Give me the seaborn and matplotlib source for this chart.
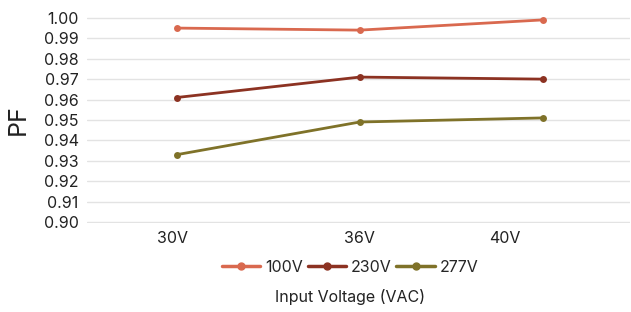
import pandas as pd
import seaborn as sns
from matplotlib import pyplot as plt

voltages = ["30V", "36V", "40V"]
pf_100v = [0.995, 0.994, 0.999]
pf_230v = [0.961, 0.971, 0.970]
pf_277v = [0.933, 0.949, 0.951]
series = ["100V", "230V", "277V"]
colors = ["#d9694f", "#8c3222", "#7f7229"]
y_ticks = [0.90, 0.91, 0.92, 0.93, 0.94, 0.95, 0.96, 0.97, 0.98, 0.99, 1.00]

sns.set_style("white")
plt.rcParams["font.family"] = ["Inter", "DejaVu Sans"]

rows = []
for name, vals in zip(series, [pf_100v, pf_230v, pf_277v]):
    for i, v in enumerate(vals):
        rows.append({"pos": i, "PF": v, "series": name})
df = pd.DataFrame(rows)

fig = plt.figure(figsize=(6.31, 3.12), dpi=100)
ax = fig.add_axes([0.138, 0.285, 0.86, 0.661])
sns.lineplot(data=df, x="pos", y="PF", hue="series", palette=colors,
             marker="o", markersize=5, markeredgewidth=0, linewidth=2,
             ax=ax, legend=False)

ax.set_xlim(-0.49, 2.475)
ax.set_ylim(0.8995, 1.0005)
ax.set_yticks(y_ticks)
ax.set_yticklabels(["%.2f" % t for t in y_ticks], fontsize=11.5)
ax.set_xticks([-0.022, 1.0, 1.79])
ax.set_xticklabels(voltages, fontsize=11.5)
ax.tick_params(axis="both", length=0, pad=6, colors="#222222")
ax.yaxis.grid(True, color="#e3e3e3", linewidth=1)
for s in ax.spines.values():
    s.set_visible(False)
ax.set_xlabel("")
ax.set_ylabel("PF", fontsize=18, labelpad=10, color="#222222")

handles = [plt.Line2D([], [], color=c, linewidth=2.5, marker="o",
                      markersize=5) for c in colors]
fig.legend(handles, series, loc="center", bbox_to_anchor=(0.555, 0.144),
           ncol=3, frameon=False, fontsize=11.5, handlelength=2.4,
           handletextpad=0.3, columnspacing=0.3)
fig.text(0.555, 0.048, "Input Voltage (VAC)", ha="center", va="center",
         fontsize=11.5, color="#222222")

fig.savefig("out.png", dpi=100)
